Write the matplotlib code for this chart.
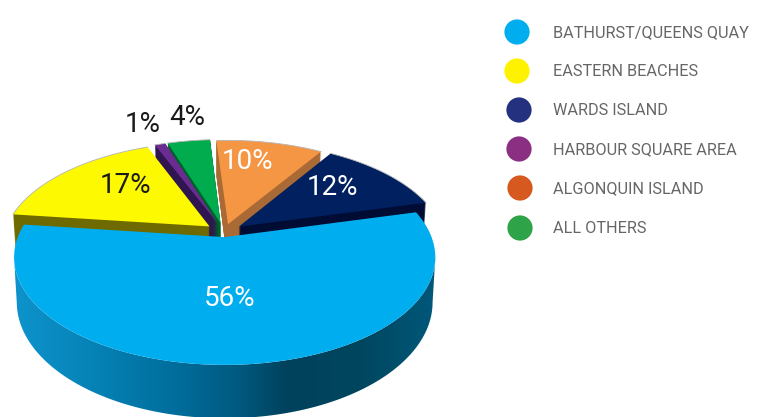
import numpy as np
import matplotlib
matplotlib.use('Agg')
import matplotlib.pyplot as plt
from matplotlib.colors import LinearSegmentedColormap
from matplotlib.patches import Polygon
from matplotlib.transforms import Transform

# slices in drawing order, clockwise from the big one
slices = ['BATHURST/QUEENS QUAY', 'EASTERN BEACHES', 'HARBOUR SQUARE AREA',
          'ALL OTHERS', 'ALGONQUIN ISLAND', 'WARDS ISLAND']
values = [56, 17, 1, 4, 10, 12]
explode = [0.05, 0.09, 0.09, 0.09, 0.08, 0.09]
top_colors = ['#00aeef', '#fcf900', '#6a2c91', '#00ac4e', '#f59644', '#00205f']
side_colors = ['#0080b0', '#6f6a00', '#2f1650', '#00602c', '#a96a35', '#000c33']
label_text = ['56%', '17%', '1%', '4%', '10%', '12%']
label_x = [230, 125, 143, 187, 248, 332]
label_y = [298.5, 185.5, 124.5, 117.5, 161.5, 187.5]
label_colors = ['white', '#1a1a1a', '#1a1a1a', '#1a1a1a', 'white', 'white']

legend_names = ['BATHURST/QUEENS QUAY', 'EASTERN BEACHES', 'WARDS ISLAND',
                'HARBOUR SQUARE AREA', 'ALGONQUIN ISLAND', 'ALL OTHERS']
legend_colors = ['#00aeef', '#fff200', '#23317f', '#8a2f82', '#d65a1f', '#2fa347']
legend_x = [517, 517, 519, 519, 520, 520]
legend_y = [32, 71, 110, 149, 188, 228]

# side wall shading of the big slice, left to right
wall_stops = [0.0, 0.15, 0.37, 0.53, 0.65, 0.82, 1.0]
wall_colors = ['#0e93cc', '#0786bb', '#006f9e', '#005a80', '#00415c', '#00465f', '#00587a']

START = 14.5
DEPTH = 43
CX, CY, W, A, B = 224, 232, 205, 102, 0.185


class Tilt(Transform):
    # flat pie -> tilted view, in pixels
    input_dims = 2
    output_dims = 2
    is_separable = False
    has_inverse = False

    def __init__(self, drop=0):
        super().__init__()
        self.drop = drop

    def transform_non_affine(self, xy):
        xy = np.asarray(xy, dtype=float)
        s = 1 / (1 + B * xy[:, 1])
        narrow = 1 - 0.0003 * self.drop
        return np.column_stack([CX + W * xy[:, 0] * s * narrow,
                                CY - A * xy[:, 1] * s + self.drop * s])


def draw_pie(ax, drop, colors, show):
    wedges, _ = ax.pie(values, explode=explode, startangle=START, counterclock=False,
                       colors=colors, wedgeprops={'linewidth': 0})
    for w, on in zip(wedges, show):
        w.set_transform(Tilt(drop) + ax.transData)
        w.set_visible(on)
    return wedges


def arc_points(w):
    theta = np.radians(np.linspace(w.theta1, w.theta2, 200))
    return np.column_stack([w.center[0] + np.cos(theta), w.center[1] + np.sin(theta)])


fig = plt.figure(figsize=(7.67, 4.17), dpi=100)
ax = fig.add_axes([0, 0, 1, 1])

upper = [False, True, True, True, True, True]
big = [True, False, False, False, False, False]

for d in range(DEPTH, 0, -1):
    draw_pie(ax, d, side_colors, upper)
tops = draw_pie(ax, 0, top_colors, upper)

# thin grey rim on the back slices
for w, on in zip(tops, upper):
    if on:
        rim = Tilt(0).transform(arc_points(w))
        ax.plot(rim[:, 0], rim[:, 1], color='#b5b5b5', lw=0.6, zorder=1.2)

# side wall of the big slice, only from widest point to widest point
blue = draw_pie(ax, 0, top_colors, big)[0]
ring = arc_points(blue)
upper_edge = Tilt(0).transform(ring)
lower_edge = Tilt(DEPTH).transform(ring)
i0, i1 = sorted([upper_edge[:, 0].argmin(), upper_edge[:, 0].argmax()])
wall = Polygon(np.vstack([upper_edge[i0:i1 + 1], lower_edge[i0:i1 + 1][::-1]]),
               closed=True, facecolor='none', edgecolor='none', zorder=1.5)
ax.add_patch(wall)
cmap = LinearSegmentedColormap.from_list('wall', list(zip(wall_stops, wall_colors)))
img = ax.imshow(np.linspace(0, 1, 256)[None, :], cmap=cmap, extent=(14, 436, 417, 200),
                aspect='auto', zorder=1.5)
img.set_clip_path(wall)
blue.set_zorder(2)

ax.set_aspect('auto')
ax.set_xlim(0, 767)
ax.set_ylim(417, 0)
ax.axis('off')

plt.rcParams['font.family'] = ['Roboto', 'DejaVu Sans']
for t, x, y, c in zip(label_text, label_x, label_y, label_colors):
    ax.text(x, y, t, color=c, fontsize=20, ha='center', va='center', zorder=5)

ax.scatter(legend_x, legend_y, s=330, c=legend_colors, linewidths=0, zorder=5)
for name, y in zip(legend_names, legend_y):
    ax.text(553, y + 0.5, name, color='#666666', fontsize=11.7, ha='left', va='center', zorder=5)

fig.savefig('out.png', dpi=100)
